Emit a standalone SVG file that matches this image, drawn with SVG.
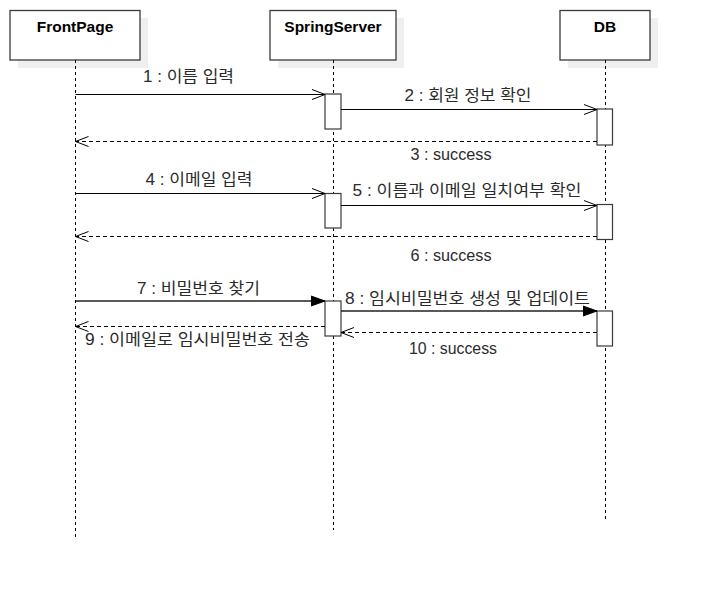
<svg xmlns="http://www.w3.org/2000/svg" width="708" height="602" viewBox="0 0 708 602">
  <style>
    .shadow { fill: #efefef; stroke: none; }
    .head { fill: #ffffff; stroke: #3a3a3a; stroke-width: 1.3; }
    .title { font-family: "Liberation Sans", Arial, sans-serif; font-weight: bold; font-size: 15.5px; fill: #000; text-anchor: middle; }
    .life { stroke: #000; stroke-width: 1; stroke-dasharray: 3 3; fill: none; }
    .act { fill: #ffffff; stroke: #3a3a3a; stroke-width: 1.2; }
    .msg { stroke: #000; stroke-width: 1; fill: none; }
    .call { stroke: #222; stroke-width: 1.3; fill: none; }
    .ret { stroke: #000; stroke-width: 1; stroke-dasharray: 4 3; fill: none; }
    .lbl { font-family: "Liberation Sans", "Noto Sans CJK KR", sans-serif; font-size: 16px; fill: #2b2b2b; text-anchor: middle; }
  </style>
  <defs>
    <marker id="open" markerUnits="userSpaceOnUse" markerWidth="16" markerHeight="12" viewBox="0 0 16 12" refX="14" refY="6" orient="auto">
      <path d="M1,1 L14,6 L1,11" fill="none" stroke="#000" stroke-width="1"/>
    </marker>
    <marker id="block" markerUnits="userSpaceOnUse" markerWidth="16" markerHeight="12" viewBox="0 0 16 12" refX="14" refY="6" orient="auto">
      <path d="M0,1 L14,6 L0,11 Z" fill="#000" stroke="#000" stroke-width="1"/>
    </marker>
  </defs>

  <!-- participants -->
  <g id="frontpage">
    <rect class="shadow" x="18" y="18" width="130" height="50"/>
    <rect class="head" x="10" y="10.5" width="130" height="49.5"/>
    <text class="title" x="75" y="31.5">FrontPage</text>
    <line class="life" x1="75.5" y1="60" x2="75.5" y2="537"/>
  </g>
  <g id="springserver">
    <rect class="shadow" x="278" y="18" width="126" height="50"/>
    <rect class="head" x="270" y="10.5" width="126" height="49.5"/>
    <text class="title" x="333" y="31.5">SpringServer</text>
    <line class="life" x1="333.5" y1="60" x2="333.5" y2="530"/>
  </g>
  <g id="db">
    <rect class="shadow" x="568" y="18" width="90" height="50"/>
    <rect class="head" x="560" y="10.5" width="90" height="49.5"/>
    <text class="title" x="605" y="31.5">DB</text>
    <line class="life" x1="605.5" y1="60" x2="605.5" y2="520"/>
  </g>

  <!-- activation bars -->
  <g id="activations">
    <rect class="act" x="325" y="94" width="16" height="35"/>
    <rect class="act" x="597" y="109" width="15.5" height="36"/>
    <rect class="act" x="325" y="193.5" width="16" height="34.5"/>
    <rect class="act" x="597" y="204.5" width="15.5" height="35"/>
    <rect class="act" x="325" y="301" width="16" height="35"/>
    <rect class="act" x="597" y="311" width="15.5" height="35"/>
  </g>

  <!-- messages -->
  <g id="connectors">
    <line class="msg" x1="75.5" y1="94.5" x2="325" y2="94.5" marker-end="url(#open)"/>
    <line class="msg" x1="341" y1="109.5" x2="597" y2="109.5" marker-end="url(#open)"/>
    <line class="ret" x1="597" y1="141.5" x2="75.5" y2="141.5" marker-end="url(#open)"/>
    <line class="msg" x1="75.5" y1="193.5" x2="325" y2="193.5" marker-end="url(#open)"/>
    <line class="msg" x1="341" y1="205.5" x2="597" y2="205.5" marker-end="url(#open)"/>
    <line class="ret" x1="597" y1="236.5" x2="75.5" y2="236.5" marker-end="url(#open)"/>
    <line class="call" x1="75.5" y1="301" x2="325" y2="301" marker-end="url(#block)"/>
    <line class="call" x1="341" y1="311" x2="597" y2="311" marker-end="url(#block)"/>
    <line class="ret" x1="325" y1="326.5" x2="75.5" y2="326.5" marker-end="url(#open)"/>
    <line class="ret" x1="597" y1="332.5" x2="341" y2="332.5" marker-end="url(#open)"/>
  </g>

  <!-- message labels -->
  <g id="labels">
    <text class="lbl" x="188.5" y="82" textLength="91" lengthAdjust="spacingAndGlyphs">1 : 이름 입력</text>
    <text class="lbl" x="468" y="101" textLength="127" lengthAdjust="spacingAndGlyphs">2 : 회원 정보 확인</text>
    <text class="lbl" x="451" y="160" textLength="81" lengthAdjust="spacingAndGlyphs">3 : success</text>
    <text class="lbl" x="199" y="185" textLength="107" lengthAdjust="spacingAndGlyphs">4 : 이메일 입력</text>
    <text class="lbl" x="467" y="196" textLength="229" lengthAdjust="spacingAndGlyphs">5 : 이름과 이메일 일치여부 확인</text>
    <text class="lbl" x="451" y="261" textLength="81" lengthAdjust="spacingAndGlyphs">6 : success</text>
    <text class="lbl" x="198.5" y="294" textLength="123" lengthAdjust="spacingAndGlyphs">7 : 비밀번호 찾기</text>
    <text class="lbl" x="467.5" y="304" textLength="245" lengthAdjust="spacingAndGlyphs">8 : 임시비밀번호 생성 및 업데이트</text>
    <text class="lbl" x="197.5" y="345" textLength="225" lengthAdjust="spacingAndGlyphs">9 : 이메일로 임시비밀번호 전송</text>
    <text class="lbl" x="453" y="354" textLength="88" lengthAdjust="spacingAndGlyphs">10 : success</text>
  </g>
</svg>
